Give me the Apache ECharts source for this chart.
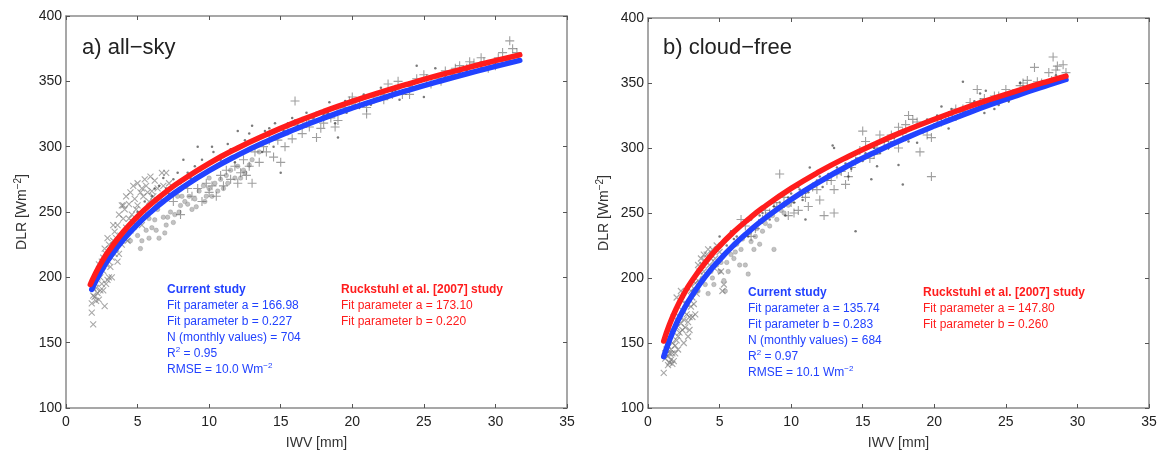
<!DOCTYPE html>
<html>
<head>
<meta charset="utf-8">
<script src="https://cdn.jsdelivr.net/npm/echarts@6/dist/echarts.min.js"></script>
<style>html,body{margin:0;padding:0;background:#fff;}#c{width:1161px;height:455px;}</style>
</head>
<body>
<div id="c"></div>
<script>
// ---- axis ticks ----
const xTicks = [0, 5, 10, 15, 20, 25, 30, 35];
const yTicks = [100, 150, 200, 250, 300, 350, 400];

// ---- panel a) all-sky : fit curves (read from picture) ----
const aBlueFit = [[1.8,190.8],[2,195.4],[2.5,205.6],[3,214.3],[4,228.7],[5,240.6],[6,250.8],[7,259.7],[8,267.7],[10,281.6],[12,293.5],[14,304],[16,313.3],[18,321.8],[20,329.6],[22,336.8],[24,343.5],[26,349.8],[28,355.8],[30,361.4],[31.7,366]];
const aRedFit = [[1.7,194.5],[2,201.6],[2.5,211.8],[3,220.4],[4,234.8],[5,246.6],[6,256.7],[7,265.6],[8,273.5],[10,287.3],[12,299],[14,309.3],[16,318.6],[18,326.9],[20,334.6],[22,341.7],[24,348.3],[26,354.5],[28,360.3],[30,365.8],[31.7,370.3]];

// ---- panel a) scatter ----
const aCross = [[1.8,173],[1.9,164],[1.8,180],[2.0,185],[2.1,192],[2.2,188],[2.3,183],[2.5,195],[2.7,178],[2.4,200],[2.6,205],[2.8,210],[2.9,198],[2.5,212],[2.7,222],[3.0,225],[2.8,218],[3.2,215],[3.3,228],[3.5,222],[3.1,208],[3.4,235],[3.6,240],[3.8,232],[3.7,218],[4.0,245],[4.2,238],[4.1,252],[4.4,256],[4.3,228],[4.6,248],[4.8,260],[4.5,236],[5.0,255],[5.2,265],[5.4,262],[5.1,244],[5.6,270],[5.8,258],[5.5,250],[6.0,266],[6.2,274],[6.4,268],[6.6,260],[7.0,280],[3.9,225],[3.2,200],[2.2,200],[2.0,196],[4.7,242],[5.3,240],[6.8,270],[2.6,190],[3.0,212],[4.0,255],[1.9,192],
  [2.3,210],[2.6,215],[2.9,230],[3.1,220],[3.3,240],[3.5,230],[3.7,248],[3.9,255],[4.2,262],[4.5,265],[4.7,270],[5.0,272],[5.3,268],[5.5,275],[5.7,265],[5.9,277],[6.1,262],[6.3,258],[4.9,252],[4.4,245],[3.6,212],[3.0,200],[2.4,190],[2.1,182],[1.9,186],[2.8,195],[6.7,280],[7.2,272],[4.1,230],[3.4,218]];
const aCircle = [[4.5,228],[5.0,232],[5.3,228],[5.6,236],[6.0,238],[6.2,244],[6.5,230],[6.8,246],[7.0,240],[7.3,250],[7.6,248],[8.0,255],[8.3,258],[8.6,262],[9.0,260],[9.3,266],[9.6,270],[10.0,268],[10.4,272],[10.8,275],[11.2,278],[11.5,282],[12.0,285],[12.5,280],[13.0,290],[5.8,245],[7.8,262],[9.8,262],[11.0,268],[8.8,252],[6.4,252],[4.8,238],[12.2,276],[13.5,296],
  [5.2,222],[5.8,230],[6.3,236],[7.1,246],[7.9,250],[8.5,256],[9.1,254],[9.7,258],[10.2,262],[10.6,266],[11.3,272],[11.8,276],[12.4,282],[6.9,234],[8.1,262],[10.0,276],[12.8,286],[7.5,242]];
const aPlus = [[7.5,258],[8.0,248],[8.8,262],[9.5,258],[10.0,265],[10.5,262],[11.0,270],[11.5,275],[12.0,272],[12.6,278],[13.0,272],[12.8,285],[13.5,288],[14.0,296],[14.5,292],[15.0,288],[15.3,300],[15.8,306],[16.0,335],[16.5,310],[17.0,315],[17.5,307],[18.0,318],[18.5,322],[19.0,320],[19.5,330],[20.0,338],[20.5,332],[21.0,325],[21.5,338],[22.0,340],[22.5,348],[23.0,344],[24.0,340],[24.5,352],[25.0,355],[25.5,348],[26.0,352],[27.0,355],[27.5,362],[28.0,360],[29.0,368],[29.5,360],[30.0,362],[30.5,372],[31.0,381],[31.2,375],[31.5,372],[31.0,366],[14.8,305],[16.8,318],[10.8,278],[9.2,268],[12.2,280],[21.0,330],[23.5,340],[26.5,358],[28.5,364],
  [8.5,268],[9.8,272],[10.2,270],[11.2,282],[11.8,285],[12.4,290],[13.2,296],[13.8,300],[14.2,305],[15.5,312],[16.2,316],[17.2,320],[18.2,325],[19.2,328],[20.2,332],[22.2,336],[23.2,350],[24.2,346],[25.2,352],[26.2,350],[27.2,360],[28.2,365],[29.2,365],[30.2,368],[19.8,335],[18.8,315],[17.8,314],[22.8,340]];
const aDot = [[5.0,250],[5.5,258],[6.0,262],[6.5,270],[7.0,268],[7.5,275],[8.0,272],[8.5,280],[9.0,285],[9.5,290],[10.0,288],[10.5,286],[11.0,292],[11.5,298],[12.0,300],[12.5,305],[13.0,316],[13.5,302],[14.0,310],[14.5,300],[15.0,280],[15.5,318],[16.0,320],[16.5,322],[17.0,318],[17.5,326],[18.0,324],[18.5,330],[19.0,307],[19.5,335],[20.0,336],[20.5,330],[21.0,338],[21.5,334],[22.0,345],[22.5,338],[23.0,343],[23.5,346],[24.0,344],[24.5,362],[25.0,338],[25.5,352],[26.0,350],[27.0,354],[28.0,358],[29.0,360],[30.0,364],[31.0,368],[9.2,300],[8.2,290],[6.8,276],[10.3,296],[12.8,310],[14.2,314],[16.2,316],[17.8,320],[13.7,296],
  [6.2,268],[7.2,264],[7.8,280],[8.7,276],[9.4,282],[9.9,280],[10.8,290],[11.3,302],[11.8,288],[12.3,296],[13.3,306],[13.9,312],[14.8,308],[15.2,312],[15.8,322],[16.8,326],[17.3,322],[18.3,326],[18.8,318],[19.3,328],[20.3,335],[20.8,340],[21.3,332],[21.8,340],[22.8,342],[23.3,336],[24.8,350],[25.3,348],[26.5,354],[27.5,357],[28.5,362],[29.5,364],[30.5,366],[12.0,312],[10.2,300],[14.6,318],[18.4,334],[25.8,360],[19.6,326]];

// ---- panel b) cloud-free : fit curves (read from picture) ----
const bBlueFit = [[1.1,139.5],[1.5,152.2],[2,165.2],[2.5,175.9],[3,185.2],[4,201],[5,214],[6,225.4],[7,235.4],[8,244.5],[10,260.4],[12,274.2],[14,286.5],[16,297.5],[18,307.6],[20,316.9],[22,325.5],[24,333.7],[26,341.3],[28,348.5],[29.2,352.7]];
const bRedFit = [[1.1,151.5],[1.5,164.2],[2,177],[2.5,187.6],[3,196.7],[4,211.9],[5,224.6],[6,235.5],[7,245.1],[8,253.8],[10,268.9],[12,282],[14,293.5],[16,303.9],[18,313.4],[20,322.1],[22,330.2],[24,337.7],[26,344.8],[28,351.5],[29.2,355.3]];

// ---- panel b) scatter ----
const bCross = [[1.1,127],[1.2,138],[1.3,145],[1.4,140],[1.5,135],[1.6,137],[1.7,142],[1.8,136],[1.9,148],[2.0,152],[2.1,145],[2.2,158],[2.3,165],[2.4,175],[2.5,168],[2.6,162],[2.7,172],[2.8,166],[2.9,160],[3.0,178],[3.1,185],[3.2,192],[3.4,188],[3.5,198],[3.6,205],[3.8,210],[3.9,218],[4.0,213],[4.2,222],[4.4,215],[4.6,208],[4.8,225],[5.0,220],[5.3,195],[5.2,190],[2.0,185],[2.3,190],[1.6,160],[2.6,180],[3.3,172],[1.3,152],[1.8,170],
  [1.2,142],[1.4,148],[1.5,142],[1.7,150],[1.9,142],[2.1,155],[2.2,170],[2.4,160],[2.5,150],[2.7,180],[2.8,155],[2.9,170],[3.0,190],[3.1,170],[3.3,196],[3.5,210],[3.7,215],[3.9,205],[4.1,218],[4.3,210],[4.5,222],[4.7,215],[3.2,180],[2.0,162],[1.6,145],[5.1,205],[1.4,133],[1.7,134]];
const bCircle = [[3.5,190],[4.0,195],[4.5,200],[5.0,205],[5.3,198],[5.5,212],[6.0,215],[6.5,222],[6.8,210],[7.0,203],[7.2,228],[7.5,232],[8.0,236],[8.5,240],[8.8,222],[9.0,245],[9.5,250],[4.8,210],[6.2,226],[7.8,226],[3.8,200],[5.8,218],
  [4.2,188],[4.6,195],[5.1,212],[5.6,205],[6.1,220],[6.6,230],[7.1,235],[7.6,238],[8.2,242],[8.7,248],[9.3,252],[9.8,256],[6.4,210],[7.4,222],[5.4,190],[4.4,205]];
const bPlus = [[6.5,245],[7.5,238],[8.0,245],[8.5,250],[9.0,255],[9.2,280],[9.5,262],[10.0,258],[10.5,252],[11.0,262],[11.5,270],[12.0,260],[12.3,248],[12.5,275],[13.0,268],[13.5,282],[14.0,278],[14.5,290],[15.0,313],[15.2,305],[15.5,292],[16.0,300],[16.5,305],[17.0,310],[17.5,300],[18.0,318],[18.5,322],[19.0,297],[19.8,278],[19.8,308],[20.5,320],[21.0,325],[22.0,330],[22.5,335],[23.0,345],[23.5,338],[24.0,335],[24.5,340],[25.0,345],[25.5,342],[26.0,348],[26.5,352],[27.0,362],[27.5,350],[28.0,358],[28.3,370],[28.5,360],[29.0,364],[29.2,358],[13.0,250],[14.8,298],[17.8,312],[11.8,268],
  [6.8,240],[7.2,232],[8.2,252],[8.8,258],[9.8,248],[10.2,250],[10.8,265],[11.2,255],[12.8,275],[13.2,280],[13.8,272],[14.2,285],[15.8,295],[16.2,310],[16.8,302],[17.2,305],[18.2,325],[18.8,320],[20.2,322],[21.5,330],[22.2,328],[23.2,335],[24.2,340],[25.2,338],[26.2,350],[27.2,351],[28.6,363],[28.2,352],[17.5,316],[19.5,310]];
const bDot = [[5.0,232],[5.5,225],[6.0,230],[6.5,240],[7.0,232],[7.5,240],[8.0,250],[8.5,245],[9.0,262],[9.5,255],[10.0,265],[10.5,270],[11.0,245],[11.5,272],[12.0,278],[12.5,285],[13.0,300],[13.5,290],[14.0,278],[14.5,236],[15.0,290],[15.5,295],[16.0,286],[16.5,305],[17.0,303],[17.5,287],[17.8,272],[18.0,312],[18.5,315],[19.0,318],[19.5,322],[20.0,318],[20.5,332],[21.0,315],[21.5,322],[22.0,351],[22.5,328],[23.0,330],[23.5,327],[24.0,338],[24.5,333],[25.0,340],[25.5,342],[26.0,350],[27.0,346],[28.0,352],[28.5,356],[10.8,260],[12.2,270],[14.2,284],[16.2,296],[18.8,304],
  [5.8,236],[6.2,232],[6.8,242],[7.2,245],[7.8,248],[8.2,245],[8.8,255],[9.2,258],[9.8,262],[10.2,258],[10.6,268],[11.2,266],[11.8,275],[12.6,280],[13.2,285],[13.8,288],[14.6,292],[15.2,296],[15.8,300],[16.8,300],[17.2,308],[18.2,305],[19.2,312],[20.2,325],[20.8,322],[21.2,330],[21.8,328],[22.8,336],[23.2,342],[24.2,330],[25.2,336],[26.5,346],[27.5,348],[12.9,302],[11.3,285],[15.6,276],[9.6,248],[23.6,344]];

// ---- annotation texts ----
const panelTitles = ['a) all\u2212sky', 'b) cloud\u2212free'];
const aBlueText = ['Current study', 'Fit parameter a = 166.98', 'Fit parameter b = 0.227', 'N (monthly values) = 704', 'R{s|2} = 0.95', 'RMSE = 10.0 Wm{s|\u22122}'];
const aRedText = ['Ruckstuhl et al. [2007] study', 'Fit parameter a = 173.10', 'Fit parameter b = 0.220'];
const bBlueText = ['Current study', 'Fit parameter a = 135.74', 'Fit parameter b = 0.283', 'N (monthly values) = 684', 'R{s|2} = 0.97', 'RMSE = 10.1 Wm{s|\u22122}'];
const bRedText = ['Ruckstuhl et al. [2007] study', 'Fit parameter a = 147.80', 'Fit parameter b = 0.260'];

const FONT = "'Liberation Sans', Arial, Helvetica, sans-serif";
const frameColor = '#8a8a8a';
const grids = [
  {left: 66, top: 16, width: 501, height: 392},
  {left: 648, top: 18, width: 501, height: 391}
];

function xAx(gi, pos) {
  const main = pos === 'bottom';
  return {
    type: 'value', gridIndex: gi, position: pos, min: xTicks[0], max: xTicks[xTicks.length-1], interval: xTicks[1]-xTicks[0],
    name: main ? 'IWV [mm]' : '', nameLocation: 'middle', nameGap: 28,
    nameTextStyle: {fontFamily: FONT, fontSize: 14, color: '#333'},
    axisLine: {show: true, onZero: false, lineStyle: {color: frameColor, width: 1.5}},
    axisTick: {show: true, inside: true, length: 4, lineStyle: {color: '#555', width: 1}},
    axisLabel: {show: main, fontFamily: FONT, fontSize: 14, color: '#222', margin: 7},
    splitLine: {show: false}
  };
}
function yAx(gi, pos) {
  const main = pos === 'left';
  return {
    type: 'value', gridIndex: gi, position: pos, min: yTicks[0], max: yTicks[yTicks.length-1], interval: yTicks[1]-yTicks[0],
    name: main ? 'DLR [Wm{s|\u22122}]' : '', nameLocation: 'middle', nameGap: 35, nameRotate: 90,
    nameTextStyle: {fontFamily: FONT, fontSize: 14, color: '#333', lineHeight: 18,
      rich: {s: {fontFamily: FONT, fontSize: 10, color: '#333', verticalAlign: 'top', lineHeight: 18, padding: [0,0,6,0]}}},
    axisLine: {show: true, onZero: false, lineStyle: {color: frameColor, width: 1.5}},
    axisTick: {show: true, inside: true, length: 4, lineStyle: {color: '#555', width: 1}},
    axisLabel: {show: main, fontFamily: FONT, fontSize: 14, color: '#222', margin: 4},
    splitLine: {show: false}
  };
}

const plusPath = 'path://M5,0L5,10M0,5L10,5';
const crossPath = 'path://M0,0L10,10M10,0L0,10';

function scat(gi, data, kind) {
  const base = {type: 'scatter', xAxisIndex: gi, yAxisIndex: gi, data: data, silent: true, z: 2};
  if (kind === 'plus') return Object.assign(base, {symbol: plusPath, symbolSize: 9,
    itemStyle: {color: 'none', borderColor: 'rgba(95,95,95,0.75)', borderWidth: 1.1}});
  if (kind === 'cross') return Object.assign(base, {symbol: crossPath, symbolSize: 6,
    itemStyle: {color: 'none', borderColor: 'rgba(110,110,110,0.75)', borderWidth: 1.1}});
  if (kind === 'circle') return Object.assign(base, {symbol: 'circle', symbolSize: 4.5,
    itemStyle: {color: 'rgba(160,160,160,0.8)', borderColor: 'rgba(130,130,130,0.8)', borderWidth: 0.5}});
  return Object.assign(base, {symbol: 'circle', symbolSize: 2.5, itemStyle: {color: 'rgba(60,60,60,0.85)'}});
}
function fit(gi, data, color, z) {
  return {type: 'line', xAxisIndex: gi, yAxisIndex: gi, data: data, smooth: true, showSymbol: false, silent: true,
    lineStyle: {color: color, width: 5.5, cap: 'round'}, z: z};
}

const BLUE = '#2242ff', RED = '#ff1c1c';
function textBlock(x, y0, lines, color) {
  return lines.map((t, i) => ({
    type: 'text', left: x, top: y0 + i * 16 - 8, z: 100,
    style: {text: t, fill: color, font: (i === 0 ? 'bold ' : '') + '12px ' + FONT,
      rich: {s: {fontSize: 8, fill: color, verticalAlign: 'top', lineHeight: 16, padding: [0,0,5,0]}},
      lineHeight: 16}
  }));
}

const option = {
  animation: false,
  backgroundColor: '#fff',
  grid: grids,
  xAxis: [xAx(0,'bottom'), xAx(1,'bottom'), xAx(0,'top'), xAx(1,'top')],
  yAxis: [yAx(0,'left'), yAx(1,'left'), yAx(0,'right'), yAx(1,'right')],
  series: [
    scat(0, aCircle, 'circle'), scat(0, aCross, 'cross'), scat(0, aPlus, 'plus'), scat(0, aDot, 'dot'),
    fit(0, aBlueFit, BLUE, 5), fit(0, aRedFit, RED, 6),
    scat(1, bCircle, 'circle'), scat(1, bCross, 'cross'), scat(1, bPlus, 'plus'), scat(1, bDot, 'dot'),
    fit(1, bBlueFit, BLUE, 5), fit(1, bRedFit, RED, 6)
  ],
  graphic: [
    {type: 'text', left: 82, top: 37, z: 100, style: {text: panelTitles[0], fill: '#222', font: '22px ' + FONT}},
    {type: 'text', left: 663, top: 37, z: 100, style: {text: panelTitles[1], fill: '#222', font: '22px ' + FONT}}
  ].concat(
    textBlock(167, 290, aBlueText, BLUE),
    textBlock(341, 290, aRedText, RED),
    textBlock(748, 293, bBlueText, BLUE),
    textBlock(923, 293, bRedText, RED)
  )
};

const chart = echarts.init(document.getElementById('c'), null, {renderer: 'canvas'});
chart.setOption(option);
</script>
</body>
</html>
